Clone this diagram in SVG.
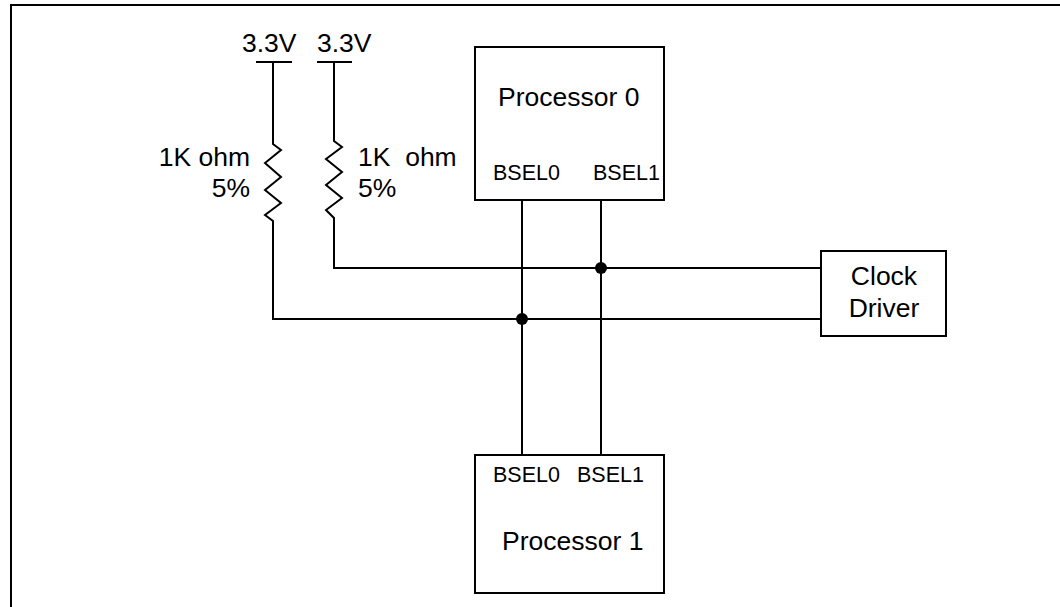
<svg xmlns="http://www.w3.org/2000/svg" width="1060" height="607" viewBox="0 0 1060 607">
<style>
.w{fill:none;stroke:#000;stroke-width:2}
.b{fill:#fff;stroke:#000;stroke-width:2}
.t{font-family:"Liberation Sans",Arial,sans-serif;font-size:26.5px;fill:#000}
.s{font-family:"Liberation Sans",Arial,sans-serif;font-size:21.5px;fill:#000}
.d{fill:#000}
</style>
<rect width="1060" height="607" fill="#fff"/>
<path class="w" d="M11,607 V5 H1060"/>
<g id="connectors">
<path class="w" d="M256,62 H292 M273,62 V144 L281,150 L265,163 L281,177 L265,190 L281,203 L265,215 L273,221 V319 H821"/>
<path class="w" d="M317,62 H352 M334,62 V141 L342,147 L326,159 L342,172 L326,185 L342,198 L326,210 L334,218 V268 H821"/>
<path class="w" d="M522,200 V455"/>
<path class="w" d="M601,200 V455"/>
<circle class="d" cx="601" cy="268" r="6"/>
<circle class="d" cx="522" cy="319" r="6"/>
</g>
<g id="vcc0"><text class="t" x="242" y="52">3.3V</text></g>
<g id="vcc1"><text class="t" x="317" y="52">3.3V</text></g>
<g id="r0"><text class="t" x="250" y="166" text-anchor="end">1K ohm</text><text class="t" x="250" y="197" text-anchor="end">5%</text></g>
<g id="r1"><text class="t" x="358" y="166" xml:space="preserve">1K  ohm</text><text class="t" x="358" y="197">5%</text></g>
<g id="processor0">
<rect class="b" x="475" y="47" width="189" height="153"/>
<text class="t" x="498" y="106">Processor 0</text>
<text class="s" x="493" y="180">BSEL0</text>
<text class="s" x="593" y="180">BSEL1</text>
</g>
<g id="processor1">
<rect class="b" x="475" y="455" width="189" height="138"/>
<text class="s" x="493" y="482">BSEL0</text>
<text class="s" x="577" y="482">BSEL1</text>
<text class="t" x="502" y="550">Processor 1</text>
</g>
<g id="clockdriver">
<rect class="b" x="821" y="251" width="125" height="85"/>
<text class="t" x="884" y="285" text-anchor="middle">Clock</text>
<text class="t" x="884" y="317" text-anchor="middle">Driver</text>
</g>
</svg>
